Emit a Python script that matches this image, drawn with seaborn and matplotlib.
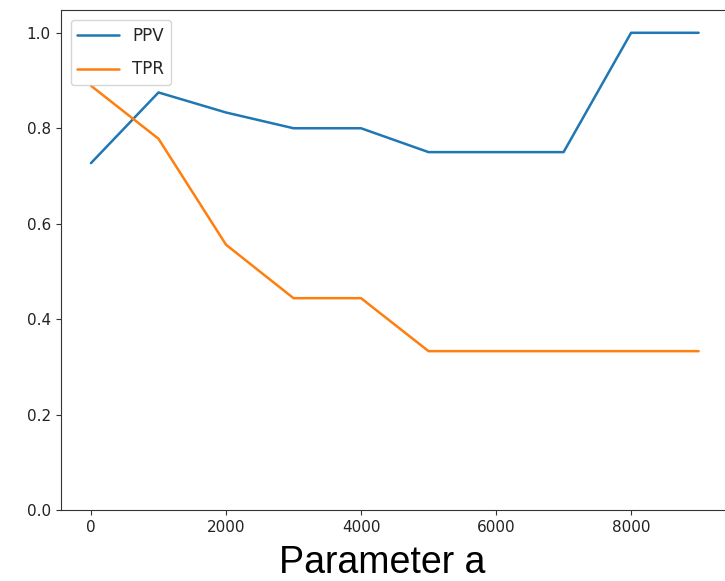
import pandas as pd
import matplotlib.pyplot as plt
import seaborn as sns

# parameter sweep values
param_a = [0, 1000, 2000, 3000, 4000, 5000, 6000, 7000, 8000, 9000]
ppv = [0.727, 0.875, 0.833, 0.800, 0.800, 0.750, 0.750, 0.750, 1.000, 1.000]
tpr = [0.889, 0.778, 0.556, 0.444, 0.444, 0.333, 0.333, 0.333, 0.333, 0.333]


def main():
    sns.set_style("ticks")
    plt.rcParams['font.family'] = ['DejaVu Sans']

    df = pd.DataFrame({'a': param_a, 'PPV': ppv, 'TPR': tpr})
    long_df = df.melt(id_vars='a', var_name='metric', value_name='value')

    fig = plt.figure(figsize=(7.25, 5.81), dpi=100)
    ax = fig.add_axes([0.0836, 0.122, 0.9219, 0.861])

    sns.lineplot(data=long_df, x='a', y='value', hue='metric', ax=ax,
                 palette=['#1f77b4', '#ff7f0e'], linewidth=1.8)

    ax.set_ylim(0, 1.048)
    ax.set_xticks([0, 2000, 4000, 6000, 8000])
    ax.set_yticks([0.0, 0.2, 0.4, 0.6, 0.8, 1.0])
    ax.tick_params(labelsize=11, colors='#333333', labelcolor='#222222')
    ax.set_ylabel('')
    ax.set_xlabel('')
    for s in ax.spines.values():
        s.set_color('#333333')

    # big axis title sits a bit left of the axes centre
    fig.text(382 / 725, 0.014, 'Parameter a', ha='center', va='baseline',
             fontsize=27, family='Liberation Sans', color='black')

    ax.legend(loc='upper left', fontsize=12, title=None, handlelength=2.5,
              labelspacing=0.95, borderaxespad=0.6)

    fig.savefig('out.png', dpi=100)


if __name__ == "__main__":
    main()
